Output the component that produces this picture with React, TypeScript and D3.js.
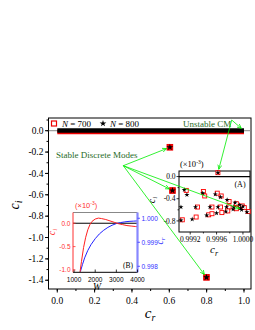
import React from 'react';
import * as d3 from 'd3';

// main panel: discrete modes (same for both N)
const discreteCr = [0.603, 0.617, 0.799];
const discreteCi = [-0.155, -0.56, -1.373];
const continuumCr = [0.0, 1.0];
const unstableMain = [1.0, 0.0];

// inset (A), ci in units of 1e-3
const a800Cr = [0.99911, 0.99915, 0.99939, 0.99958, 0.99966, 0.99976, 0.99988, 0.99995, 1.0,
  0.99906, 0.99928, 0.9995, 0.99962, 0.99975, 0.99986, 0.99996,
  0.99906, 0.99923, 0.99945, 0.9996, 0.99974, 0.99985, 0.99998, 1.00006, 0.99962];
const a800Ci = [-0.24, -0.33, -0.3, -0.32, -0.37, -0.42, -0.47, -0.51, -0.54,
  -0.55, -0.55, -0.55, -0.55, -0.55, -0.55, -0.57,
  -0.79, -0.77, -0.7, -0.66, -0.63, -0.59, -0.6, -0.64, 0.07];
const a700Cr = [0.99914, 0.9994, 0.99942, 0.99961, 0.99967, 0.99979, 0.9999, 0.99999, 1.00002,
  0.99931, 0.99953, 0.99966, 0.99979, 0.9999,
  0.99908, 0.99929, 0.99948, 0.99953, 0.99968, 0.99977, 0.9999, 1.00008, 0.99962];
const a700Ci = [-0.25, -0.27, -0.35, -0.3, -0.35, -0.45, -0.49, -0.53, -0.56,
  -0.55, -0.55, -0.55, -0.55, -0.56,
  -0.78, -0.73, -0.69, -0.67, -0.65, -0.62, -0.58, -0.63, 0.07];
const aTargetStable = [1.0, -0.6];
const aTargetUnstable = [0.99962, 0.07];

// inset (B)
const bWci = [1280, 1350, 1450, 1550, 1650, 1750, 1850, 2000, 2150, 2300, 2500, 2700, 2900, 3100, 3300, 3500, 3700, 3900, 4000];
const bCi = [-1.05, -0.82, -0.52, -0.3, -0.14, -0.03, 0.04, 0.09, 0.11, 0.1, 0.08, 0.05, 0.02, -0.01, -0.03, -0.05, -0.06, -0.07, -0.075];
const bWcr = [1300, 1400, 1500, 1650, 1800, 2000, 2200, 2400, 2600, 2800, 3000, 3200, 3400, 3600, 3800, 4000];
const bCr = [0.99778, 0.99808, 0.99835, 0.99866, 0.9989, 0.99915, 0.99935, 0.9995, 0.99962, 0.99971, 0.99978, 0.99982, 0.99985, 0.99987, 0.99988, 0.99989];

const mainXTicks = [0, 0.2, 0.4, 0.6, 0.8, 1.0];
const mainYTicks = [0, -0.2, -0.4, -0.6, -0.8, -1.0, -1.2, -1.4];
const aXTicks = [0.9992, 0.9996, 1.0];
const aYTicks = [0, -0.4, -0.8];
const bXTicks = [1000, 2000, 3000, 4000];
const bCiTicks = [0, -0.5, -1.0];
const bCrTicks = [1.0, 0.999, 0.998];

const serif = 'Liberation Serif';
const sans = 'Liberation Sans';
const green = '#00ee00';
const dkgreen = '#1f6b1f';

const mx = d3.scaleLinear([-0.047, 1.0375], [48.5, 251]);
const my = d3.scaleLinear([-1.482, 0.119], [289, 118]);
const ax = d3.scaleLinear([0.99903, 1.000107], [179, 250]);
const ay = d3.scaleLinear([-1.0, 0.1], [232, 171]);
const bx = d3.scaleLinear([950, 4000], [73, 137.5]);
const byCi = d3.scaleLinear([-1.05, 0.23], [272.3, 212.5]);
const byCr = d3.scaleLinear([0.99775, 1.00024], [272.3, 212.5]);

const star = (s: number) => d3.symbol(d3.symbolStar, s)() as string;
const fmt = (v: number, n: number) => v.toFixed(n);

function shorten(x1: number, y1: number, x2: number, y2: number, d: number) {
  const L = Math.hypot(x2 - x1, y2 - y1);
  return [x2 - (x2 - x1) * d / L, y2 - (y2 - y1) * d / L];
}

export default function App() {
  const [x0, x1] = mx.range();
  const [y0, y1] = my.range();
  const minorX = d3.range(0, 1.05, 0.1);
  const minorY = d3.range(0.1, -1.45, -0.1);

  const ciLine = d3.line<number>().x((d, i) => bx(bWci[i])).y(d => byCi(d));
  const crLine = d3.line<number>().x((d, i) => bx(bWcr[i])).y(d => byCr(d));

  const stableFrom = [123.3, 165.7];
  const stableTo = [
    [mx(discreteCr[0]), my(discreteCi[0])],
    [mx(discreteCr[1]), my(discreteCi[1])],
    [ax(aTargetStable[0]), ay(aTargetStable[1])],
    [mx(discreteCr[2]), my(discreteCi[2])],
  ];
  const unstFrom = [231.7, 120];
  const unstTo = [
    [mx(unstableMain[0]), my(unstableMain[1])],
    [ax(aTargetUnstable[0]), ay(aTargetUnstable[1])],
  ];

  const arrow = (f: number[], t: number[], k: string) => {
    const [ex, ey] = shorten(f[0], f[1], t[0], t[1], 3.5);
    return <line key={k} x1={f[0]} y1={f[1]} x2={ex} y2={ey} stroke={green} strokeWidth={0.8} markerEnd="url(#ah)" />;
  };

  return (
    <svg width={255} height={330} style={{ position: 'absolute', left: 0, top: 0, background: '#fff' }}>
      <defs>
        <marker id="ah" viewBox="0 0 10 10" refX={9} refY={5} markerWidth={5} markerHeight={5} markerUnits="userSpaceOnUse" orient="auto">
          <path d="M0,1 L9,5 L0,9" fill="none" stroke={green} strokeWidth={1.5} />
        </marker>
        <clipPath id="clipB"><rect x={73} y={212.5} width={64.5} height={59.8} /></clipPath>
      </defs>

      {/* main frame */}
      <rect x={x0} y={y1} width={x1 - x0} height={y0 - y1} fill="none" stroke="#000" strokeWidth={1} />
      <line x1={x0} x2={x1} y1={my(0)} y2={my(0)} stroke="#888" strokeWidth={1} />
      {mainYTicks.map(v => (
        <g key={'my' + v}>
          <line x1={x0 - 3.5} x2={x0} y1={my(v)} y2={my(v)} stroke="#000" />
          <text x={x0 - 5} y={my(v) + 3.2} textAnchor="end" fontFamily={serif} fontSize={9.5}>{fmt(v, 1)}</text>
        </g>
      ))}
      {minorY.map(v => <line key={'mmy' + v} x1={x0 - 2} x2={x0} y1={my(v)} y2={my(v)} stroke="#000" />)}
      {mainXTicks.map(v => (
        <g key={'mx' + v}>
          <line x1={mx(v)} x2={mx(v)} y1={y0} y2={y0 + 3.5} stroke="#000" />
          <text x={mx(v)} y={y0 + 14.5} textAnchor="middle" fontFamily={serif} fontSize={9.5}>{fmt(v, 1)}</text>
        </g>
      ))}
      {minorX.map(v => <line key={'mmx' + v} x1={mx(v)} x2={mx(v)} y1={y0} y2={y0 + 2} stroke="#000" />)}
      <text transform="translate(19,205) rotate(-90)" textAnchor="middle" fontFamily={serif} fontSize={14} fontStyle="italic">
        c<tspan fontSize={10} dy={3}>i</tspan>
      </text>
      <text x={150} y={318} textAnchor="middle" fontFamily={serif} fontSize={15} fontStyle="italic">
        c<tspan fontSize={10} dy={3}>r</tspan>
      </text>

      {/* continuum band */}
      <line x1={mx(continuumCr[0])} x2={mx(continuumCr[1])} y1={my(0) + 1.2} y2={my(0) + 1.2} stroke="#e00" strokeWidth={4.5} />
      <line x1={mx(continuumCr[0])} x2={mx(continuumCr[1])} y1={my(0) - 0.3} y2={my(0) - 0.3} stroke="#000" strokeWidth={4.5} />

      {/* main discrete modes */}
      {discreteCr.map((c, i) => (
        <g key={'d' + i}>
          <rect x={mx(c) - 2.8} y={my(discreteCi[i]) - 2.8} width={5.6} height={5.6} fill="#e00" stroke="#e00" />
          <path d={star(14)} transform={`translate(${mx(c)},${my(discreteCi[i])})`} fill="#000" />
        </g>
      ))}

      {/* legend */}
      <rect x={51.5} y={121} width={5} height={5} fill="#fff" stroke="#e00" strokeWidth={1.2} />
      <text x={62} y={126.5} fontFamily={serif} fontSize={9}><tspan fontStyle="italic">N</tspan> = 700</text>
      <path d={star(14)} transform="translate(103,123.5)" fill="#000" />
      <text x={110} y={126.5} fontFamily={serif} fontSize={9}><tspan fontStyle="italic">N</tspan> = 800</text>
      <text x={183} y={127} fontFamily={serif} fontSize={9} fill={dkgreen}>Unstable CM</text>
      <text x={56} y={158} fontFamily={serif} fontSize={9} fill={dkgreen}>Stable Discrete Modes</text>

      {/* inset B */}
      <g>
        <rect x={73} y={212.5} width={64.5} height={59.8} fill="#fff" />
        <g clipPath="url(#clipB)">
          <line x1={73} x2={137.5} y1={byCi(0)} y2={byCi(0)} stroke="#000" strokeWidth={1} />
          <path d={crLine(bCr) as string} fill="none" stroke="#2222ff" strokeWidth={1} />
          <path d={ciLine(bCi) as string} fill="none" stroke="#ff2020" strokeWidth={1} />
        </g>
        <line x1={73} x2={137.5} y1={212.5} y2={212.5} stroke="#555" strokeWidth={0.7} />
        <line x1={73} x2={137.5} y1={272.3} y2={272.3} stroke="#000" strokeWidth={1} />
        <line x1={73} x2={73} y1={212.5} y2={272.3} stroke="#ff3030" strokeWidth={1} />
        <line x1={137.5} x2={137.5} y1={212.5} y2={272.3} stroke="#8888ff" strokeWidth={2.2} />
        {bXTicks.map(v => (
          <g key={'bx' + v}>
            <line x1={bx(v)} x2={bx(v)} y1={272.3} y2={269.5} stroke="#000" strokeWidth={0.8} />
            <text x={bx(v)} y={281.5} textAnchor="middle" fontFamily={sans} fontSize={6.5}>{v}</text>
          </g>
        ))}
        {bCiTicks.map(v => (
          <g key={'bci' + v}>
            <line x1={73} x2={75.5} y1={byCi(v)} y2={byCi(v)} stroke="#ff3030" strokeWidth={0.8} />
            <text x={70.5} y={byCi(v) + 2.3} textAnchor="end" fontFamily={sans} fontSize={6.5} fill="#ff3030">{fmt(v, 1)}</text>
          </g>
        ))}
        {bCrTicks.map(v => (
          <g key={'bcr' + v}>
            <line x1={137.5} x2={140} y1={byCr(v)} y2={byCr(v)} stroke="#3333ff" strokeWidth={0.8} />
            <text x={141.5} y={byCr(v) + 2.3} fontFamily={sans} fontSize={6.5} fill="#3333ff">{fmt(v, 3)}</text>
          </g>
        ))}
        <text x={75} y={208} fontFamily={sans} fontSize={7.5} fill="#ff3030">(×10<tspan fontSize={5} dy={-3}>-3</tspan><tspan dy={3}>)</tspan></text>
        <text transform="translate(55,232) rotate(-90)" textAnchor="middle" fontFamily={serif} fontSize={10} fontStyle="italic" fill="#ff3030">
          c<tspan fontSize={7} dy={2}>i</tspan>
        </text>
        <text transform="translate(163,241) rotate(-90)" textAnchor="middle" fontFamily={serif} fontSize={10} fontStyle="italic" fill="#3333ff">
          c<tspan fontSize={7} dy={2}>r</tspan>
        </text>
        <text x={97} y={290} textAnchor="middle" fontFamily={serif} fontSize={9.5} fontStyle="italic">W</text>
        <text x={128} y={268} textAnchor="middle" fontFamily={serif} fontSize={7.5}>(B)</text>
      </g>

      {/* inset A */}
      <g>
        <rect x={179} y={171} width={71} height={61} fill="#fff" stroke="#000" strokeWidth={1} />
        <line x1={179} x2={250} y1={ay(0)} y2={ay(0)} stroke="#000" strokeWidth={1.2} />
        {aYTicks.map(v => (
          <g key={'ay' + v}>
            <line x1={176.5} x2={179} y1={ay(v)} y2={ay(v)} stroke="#000" strokeWidth={0.8} />
            <text x={175.5} y={ay(v) + 2.6} textAnchor="end" fontFamily={serif} fontSize={7.5}>{fmt(v, 1)}</text>
          </g>
        ))}
        {[-0.2, -0.6].map(v => <line key={'amy' + v} x1={177.5} x2={179} y1={ay(v)} y2={ay(v)} stroke="#000" strokeWidth={0.8} />)}
        {aXTicks.map(v => (
          <g key={'ax' + v}>
            <line x1={ax(v)} x2={ax(v)} y1={232} y2={234.5} stroke="#000" strokeWidth={0.8} />
            <text x={ax(v)} y={241.5} textAnchor="middle" fontFamily={serif} fontSize={7.5}>{fmt(v, 4)}</text>
          </g>
        ))}
        {[0.9994, 0.9998].map(v => <line key={'amx' + v} x1={ax(v)} x2={ax(v)} y1={232} y2={233.5} stroke="#000" strokeWidth={0.8} />)}
        {a700Cr.map((c, i) => (
          <rect key={'a7' + i} x={ax(c) - 2} y={ay(a700Ci[i]) - 2} width={4} height={4} fill="#fff" stroke="#f00" strokeWidth={0.9} />
        ))}
        {a800Cr.map((c, i) => (
          <path key={'a8' + i} d={star(8)} transform={`translate(${ax(c)},${ay(a800Ci[i])})`} fill="#000" />
        ))}
        <text x={180} y={167} fontFamily={serif} fontSize={8.5}>(×10<tspan fontSize={5.5} dy={-3.5}>-3</tspan><tspan dy={3.5}>)</tspan></text>
        <text x={240} y={187} textAnchor="middle" fontFamily={serif} fontSize={8}>(A)</text>
        <text transform="translate(155,200) rotate(-90)" textAnchor="middle" fontFamily={serif} fontSize={10} fontStyle="italic">
          c<tspan fontSize={7} dy={2}>i</tspan>
        </text>
        <text x={214} y={253} textAnchor="middle" fontFamily={serif} fontSize={11} fontStyle="italic">
          c<tspan fontSize={8} dy={2.5}>r</tspan>
        </text>
      </g>

      {/* arrows */}
      {stableTo.map((t, i) => arrow(stableFrom, t, 's' + i))}
      {unstTo.map((t, i) => arrow(unstFrom, t, 'u' + i))}
    </svg>
  );
}
